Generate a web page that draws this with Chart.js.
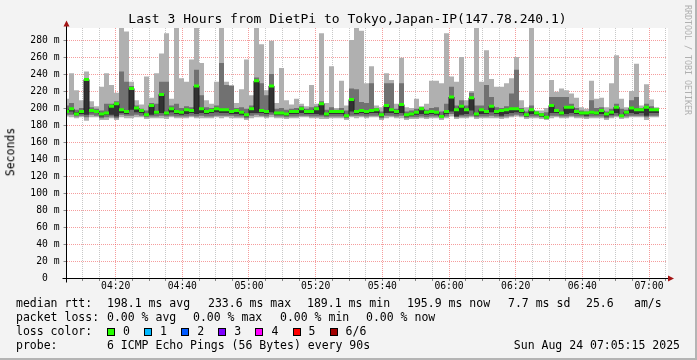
<!DOCTYPE html>
<html><head><meta charset="utf-8">
<script src="https://cdn.jsdelivr.net/npm/chart.js@4.4.1/dist/chart.umd.min.js"></script>
<style>
html,body{margin:0;padding:0;background:#f3f3f3;overflow:hidden;}
#wrap{position:relative;width:697px;height:360px;background:#f3f3f3;overflow:hidden;}
#c{position:absolute;left:0;top:0;}
.t{position:absolute;font-family:"DejaVu Sans Mono",monospace;white-space:pre;color:#000;line-height:1;font-size:11.5px;}
.box{position:absolute;width:6px;height:6px;border:1px solid #000;top:328px;}
#frameR{position:absolute;right:0;top:0;width:2px;height:360px;background:#b4b4b4;}
#frameB{position:absolute;left:0;bottom:0;width:697px;height:2px;background:#b4b4b4;}
</style></head><body>
<div id="wrap">
<canvas id="c" width="697" height="360"></canvas>
<div class="t" style="left:0;width:695px;text-align:center;top:12px;font-size:13px">Last 3 Hours from DietPi to Tokyo,Japan-IP(147.78.240.1)</div>
<div class="t" style="left:11px;top:152px;transform:translate(-50%,-50%) rotate(-90deg)">Seconds</div>
<div class="t" style="left:684px;top:5px;font-size:8.3px;writing-mode:vertical-rl;color:#b0b0b0">RRDTOOL / TOBI OETIKER</div>

<div class="t" style="left:16px;top:297.5px">median rtt:</div>
<div class="t" style="left:107px;top:297.5px">198.1 ms avg</div>
<div class="t" style="left:208px;top:297.5px">233.6 ms max</div>
<div class="t" style="left:307px;top:297.5px">189.1 ms min</div>
<div class="t" style="left:407px;top:297.5px">195.9 ms now</div>
<div class="t" style="left:508px;top:297.5px">7.7 ms sd</div>
<div class="t" style="left:586px;top:297.5px">25.6</div>
<div class="t" style="left:634px;top:297.5px">am/s</div>

<div class="t" style="left:16px;top:311.8px">packet loss:</div>
<div class="t" style="left:107px;top:311.8px">0.00 % avg</div>
<div class="t" style="left:193px;top:311.8px">0.00 % max</div>
<div class="t" style="left:280px;top:311.8px">0.00 % min</div>
<div class="t" style="left:366px;top:311.8px">0.00 % now</div>

<div class="t" style="left:16px;top:326.1px">loss color:</div>
<div id="lossLegend"></div>

<div class="t" style="left:16px;top:340.4px">probe:</div>
<div class="t" style="left:107px;top:340.4px">6 ICMP Echo Pings (56 Bytes) every 90s</div>
<div class="t" style="right:17px;top:340.4px">Sun Aug 24 07:05:15 2025</div>
<div id="frameR"></div><div id="frameB"></div>
</div>
<script>
// ---- data ----
const startTime = '04:05:15';
const stepSeconds = 90;
const xTickLabels = ['04:20','04:40','05:00','05:20','05:40','06:00','06:20','06:40','07:00'];
const lossLabels = ['0','1','2','3','4','5','6/6'];
const lossColors = ['#26ff00','#00b8ff','#0059ff','#7e00ff','#ff00ff','#ff0000','#a10000'];

const pingMin = [
190,189,188,189,185,189,189,186,186,188,
186,189,188,188,189,189,187,188,188,188,
187,189,188,188,188,189,188,188,188,188,
189,188,189,188,188,188,186,188,189,189,
188,189,188,188,187,188,188,189,189,188,
188,187,187,188,188,188,186,189,188,189,
188,189,189,186,188,189,188,188,186,187,
187,188,187,188,188,186,188,190,187,188,
188,189,187,188,188,188,188,187,188,189,
190,189,187,188,188,187,186,188,189,188,
188,189,188,188,187,188,188,188,186,188,
189,187,188,189,189,189,186,189,189];
const ping2 = [
192,192,190,191,189,192,191,188,189,190,
188,192,191,191,192,191,189,190,190,191,
190,191,190,190,190,191,190,191,190,190,
191,191,191,191,190,190,188,191,192,191,
190,192,190,190,189,190,190,191,191,190,
190,190,189,190,190,190,188,191,191,191,
190,191,191,188,191,191,190,191,188,189,
189,190,189,190,190,188,190,193,189,190,
190,191,189,190,190,191,190,189,190,191,
192,191,189,190,190,189,188,191,191,190,
190,191,190,190,189,190,190,190,188,190,
191,189,190,191,191,191,189,191,191];
const ping3 = [
194,196,192,193,192,195,194,190,192,192,
190,194,193,198,195,194,191,192,193,194,
192,195,193,192,193,194,193,194,193,194,
195,194,194,193,193,192,190,194,194,194,
193,195,192,192,191,193,193,194,193,193,
193,192,191,193,193,193,190,196,193,194,
193,194,194,190,194,194,193,194,190,191,
192,193,192,193,192,189,193,196,190,192,
193,197,191,193,193,195,193,191,193,194,
195,194,190,193,192,190,188,194,194,192,
193,194,193,192,191,193,192,193,190,192,
194,190,193,194,193,194,191,194,194];
const ping4 = [
197,200,195,197,233.6,197,196,193,194,202,
205,198,196,223,200,197,192,203,195,216,
194,199,196,195,198,197,226,199,196,197,
199,198,198,196,197,195,192,199,232,197,
196,226,194,194,193,196,196,199,196,196,
199,205,193,196,196,196,191,210,196,197,
196,197,198,192,203,198,196,204,192,193,
195,199,195,196,195,190,196,213,198,202,
198,212,193,198,196,202,196,197,198,199,
199,197,192,198,194,192,189.1,203,197,194,
201,201,196,194,194,195,194,197,193,195,
201,191,195,200,198,198,201,198,198];
const ping5 = [
203,206,198,200,235,201,199,197,205,205,
208,243,231,226,203,199,197,206,205,231,
231,203,205,200,202,201,245,215,201,200,
203,253,227,226,200,201,199,203,236,229,
215,240,199,200,198,199,200,202,199,201,
202,208,198,201,198,200,197,223,222,207,
206,229,200,196,229,229,199,229,196,197,
199,201,198,200,201,196,205,225,203,209,
203,218,203,203,227,213,201,200,202,217,
245,200,196,203,196,194,195,213,213,213,
213,205,200,197,196,209,200,201,196,199,
205,199,198,209,213,200,205,202,199];
const pingMax = [
211,241,221,209,243,208,202,225,241,227,
218,296,290,231,209,204,237,212,241,264,
288,211,296,235,231,257,296,253,209,205,
231,296,231,227,206,222,257,215,296,275,
221,279,206,247,209,204,211,205,202,227,
205,288,206,249,200,232,203,280,296,291,
229,249,203,201,241,233,205,259,201,200,
211,202,205,232,232,229,288,237,231,260,
209,220,296,231,268,234,225,225,229,235,
260,209,201,296,197,197,200,233,219,223,
221,217,212,201,199,232,211,212,201,229,
262,211,201,220,252,203,228,210,201];
const medianRtt = [
196,199,193,196,233.6,197,196,193,194,202,
205,198,196,223,200,197,192,203,195,216,
194,199,196,195,198,197,226,199,196,197,
199,198,198,196,197,195,192,199,232,197,
196,226,194,194,193,196,196,199,196,196,
199,205,193,196,196,196,191,210,196,197,
196,197,198,192,203,198,196,204,192,193,
195,199,195,196,195,190,196,213,198,202,
198,212,193,198,196,202,196,197,198,199,
199,197,192,198,194,192,189.1,203,197,194,
201,201,196,194,194,195,194,197,193,195,
201,191,195,200,198,198,201,198,198];

// ---- helpers ----
const toSec = s => { const p = s.split(':').map(Number); return p[0]*3600 + p[1]*60 + (p[2]||0); };
const t0 = toSec(startTime);
const spanSec = 3*3600;
const xs = medianRtt.map((_, j) => j*stepSeconds);
const majorOffsets = xTickLabels.map(l => toSec(l) - t0);
const minorOffsets = [];
for (let s = Math.ceil(t0/300)*300; s <= t0 + spanSec; s += 300) minorOffsets.push(s - t0);

// loss legend
const ll = document.getElementById('lossLegend');
lossLabels.forEach((lab, i) => {
  const bx = 107 + i*37.1;
  const b = document.createElement('div'); b.className = 'box';
  b.style.left = bx + 'px'; b.style.background = lossColors[i]; ll.appendChild(b);
  const tx = document.createElement('div'); tx.className = 't';
  tx.style.left = (bx + 16) + 'px'; tx.style.top = '326.1px'; tx.textContent = lab; ll.appendChild(tx);
});

function band(lo, hi, color, order) {
  return { type: 'bar', data: xs.map((x, j) => ({ x, y: [lo[j], hi[j]] })),
    backgroundColor: color, borderWidth: 0, barPercentage: 1, categoryPercentage: 1,
    grouped: false, inflateAmount: 0, order };
}
const halfBand = 1.5/0.85;

const bgPlugin = { id: 'bg', beforeDraw(chart) {
  const { ctx, chartArea: a } = chart;
  ctx.save(); ctx.fillStyle = '#ffffff';
  ctx.fillRect(Math.ceil(a.left), a.top, Math.floor(a.right) - Math.ceil(a.left) + 2, a.bottom - a.top);
  ctx.restore();
}};
const axisPlugin = { id: 'axes', afterDraw(chart) {
  const { ctx, chartArea: a } = chart;
  const ax = a.left, ay = a.bottom + 0.5;
  ctx.save();
  ctx.strokeStyle = '#000'; ctx.lineWidth = 1;
  ctx.beginPath(); ctx.moveTo(ax, ay + 4); ctx.lineTo(ax, a.top - 2); ctx.stroke();
  ctx.beginPath(); ctx.moveTo(ax - 4, ay); ctx.lineTo(a.right + 2, ay); ctx.stroke();
  ctx.fillStyle = '#a31515';
  ctx.beginPath(); ctx.moveTo(ax - 3, a.top - 1.5); ctx.lineTo(ax + 3, a.top - 1.5); ctx.lineTo(ax, a.top - 7.5); ctx.closePath(); ctx.fill();
  const rx = a.right + 1.5;
  ctx.beginPath(); ctx.moveTo(rx, ay - 3); ctx.lineTo(rx, ay + 3); ctx.lineTo(rx + 6, ay); ctx.closePath(); ctx.fill();
  ctx.restore();
}};

const majorGrid = 'rgba(235,60,60,0.5)';
const minorGrid = '#c8c8c8';

new Chart(document.getElementById('c'), {
  type: 'bar',
  data: { datasets: [
    { type: 'bar', data: xs.map((x, j) => ({ x, y: [medianRtt[j]-halfBand, medianRtt[j]+halfBand] })),
      backgroundColor: lossColors[0], borderWidth: 0, barPercentage: 1, categoryPercentage: 1,
      grouped: false, inflateAmount: 0, order: 0 },
    { type: 'line', data: xs.map((x, j) => ({ x, y: medianRtt[j] })), stepped: 'middle',
      borderColor: '#202020', borderWidth: 1, pointRadius: 0, fill: false, order: 1 },
    band(ping3, ping4, '#323232', 2),
    band(ping2, ping5, '#717171', 3),
    band(pingMin, pingMax, '#b0b0b0', 4)
  ]},
  options: {
    responsive: false, animation: false, devicePixelRatio: 1,
    layout: { padding: { left: 0, right: 30.5, top: 28, bottom: 62 }, autoPadding: false },
    plugins: { legend: { display: false }, tooltip: { enabled: false }, title: { display: false } },
    scales: {
      x: {
        type: 'linear', min: 0, max: spanSec, offset: false, z: 1,
        afterBuildTicks: s => { s.ticks = minorOffsets.map(v => ({ value: v })); },
        afterFit: s => { s.height = 20; },
        grid: { offset: false, lineWidth: 1, tickLength: 3,
          color: c => majorOffsets.includes(c.tick.value) ? majorGrid : minorGrid,
          tickColor: '#888' },
        border: { display: true, color: '#000', dash: [1, 1] },
        ticks: { autoSkip: false, maxRotation: 0, padding: 0, color: '#000',
          font: { family: 'DejaVu Sans Mono', size: 9.7 },
          callback: v => { const k = majorOffsets.indexOf(v); return k >= 0 ? xTickLabels[k] : ''; } }
      },
      y: {
        type: 'linear', min: 0, max: 250/0.85, z: 1,
        afterFit: s => { s.width = 66.5; },
        grid: { lineWidth: 1, tickLength: 3,
          color: c => (c.tick.value % 20 === 0) ? majorGrid : minorGrid,
          tickColor: '#888' },
        border: { display: true, color: 'rgba(0,0,0,0)', dash: [1, 1] },
        ticks: { stepSize: 10, includeBounds: false, padding: 4, color: '#000',
          font: { family: 'DejaVu Sans Mono', size: 9.7 },
          callback: v => (v % 20 === 0) ? (v === 0 ? '0  ' : v + ' m') : '' }
      }
    }
  },
  plugins: [bgPlugin, axisPlugin]
});
</script>
</body></html>
